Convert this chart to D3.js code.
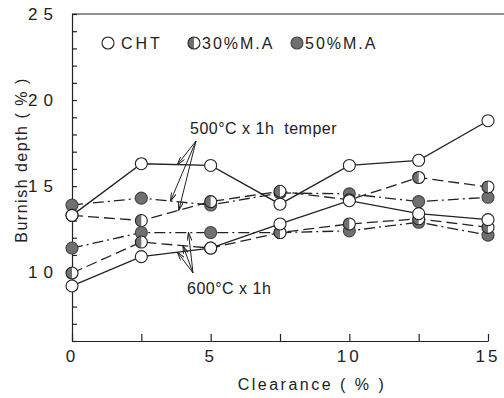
<!DOCTYPE html>
<html>
<head>
<meta charset="utf-8">
<script src="https://cdn.jsdelivr.net/npm/d3@7"></script>
<style>
  body { margin: 0; background: #fff; }
  svg { display: block; }
  text { font-family: "Liberation Sans", Arial, sans-serif; fill: #222; }
</style>
</head>
<body>
<svg id="chart"></svg>
<script>
var clearance = [0, 2.5, 5, 7.5, 10, 12.5, 15];

// 500C x 1h temper
var cht500  = [13.3, 16.3, 16.2, 13.95, 16.2, 16.5, 18.8];
var ma30500 = [13.3, 13.0, 14.1, 14.7, 14.2, 15.5, 14.95];
var ma50500 = [13.9, 14.3, 13.9, 14.6, 14.55, 14.1, 14.35];
// 600C x 1h
var cht600  = [9.2, 10.9, 11.4, 12.8, 14.15, 13.4, 13.05];
var ma30600 = [9.95, 11.75, 11.4, 12.3, 12.8, 13.1, 12.6];
var ma50600 = [11.4, 12.3, 12.3, 12.3, 12.4, 12.9, 12.15];

var xTicks = [0, 5, 10, 15];
var yTicks = [10, 15, 20, 25];

var width = 504, height = 398;
var gray = '#707070', ink = '#222';

var svg = d3.select('#chart').attr('width', width).attr('height', height);

var xScale = d3.scaleLinear().domain([0, 15]).range([72, 488]);
var yScale = d3.scaleLinear().domain([6, 25]).range([341, 14]);

// frame
svg.append('line')
    .attr('x1', 72).attr('x2', width)
    .attr('y1', yScale(25)).attr('y2', yScale(25))
    .attr('stroke', ink).attr('stroke-width', 1.2);

var xAxis = d3.axisBottom(xScale)
    .tickValues(d3.range(0, 15.01, 2.5))
    .tickSize(-7)
    .tickSizeOuter(0)
    .tickFormat('');
svg.append('g')
    .attr('transform', 'translate(0,' + yScale(6) + ')')
    .call(xAxis);

var yAxis = d3.axisLeft(yScale)
    .tickValues(d3.range(6, 25.01, 1))
    .tickSize(-5)
    .tickSizeOuter(0)
    .tickFormat('');
svg.append('g')
    .attr('transform', 'translate(' + xScale(0) + ',0)')
    .call(yAxis);

svg.selectAll('.domain, .tick line').attr('stroke', ink).attr('stroke-width', 1.2);

// tick labels
svg.selectAll('.xlab')
    .data(xTicks)
    .enter()
    .append('text')
    .attr('x', d => xScale(d))
    .attr('y', 362)
    .attr('text-anchor', 'middle')
    .attr('font-size', 17)
    .attr('letter-spacing', 3)
    .text(d => d);

svg.selectAll('.ylab')
    .data(yTicks)
    .enter()
    .append('text')
    .attr('x', 59)
    .attr('y', d => yScale(d))
    .attr('dy', '0.36em')
    .attr('text-anchor', 'end')
    .attr('font-size', 17)
    .attr('letter-spacing', 6)
    .text(d => d);

svg.append('text')
    .attr('x', 312)
    .attr('y', 390)
    .attr('text-anchor', 'middle')
    .attr('font-size', 16)
    .attr('letter-spacing', 2.5)
    .text('Clearance ( % )');

svg.append('text')
    .attr('transform', 'translate(27,160) rotate(-90)')
    .attr('text-anchor', 'middle')
    .attr('font-size', 16)
    .attr('letter-spacing', 1.5)
    .text('Burnish depth ( % )');

// series
var series = [
    {vals: cht500,  dash: null,           fill: 'open'},
    {vals: ma30500, dash: '11,5',         fill: 'half'},
    {vals: ma50500, dash: '11,4,2,4',     fill: 'full'},
    {vals: cht600,  dash: null,           fill: 'open'},
    {vals: ma30600, dash: '11,5',         fill: 'half'},
    {vals: ma50600, dash: '11,4,2,4',     fill: 'full'}
];

var line = d3.line()
    .x((d, i) => xScale(clearance[i]))
    .y(d => yScale(d));

svg.selectAll('.series')
    .data(series)
    .enter()
    .append('path')
    .attr('d', d => line(d.vals))
    .attr('fill', 'none')
    .attr('stroke', ink)
    .attr('stroke-width', 1.3)
    .attr('stroke-dasharray', d => d.dash);

var r = 6;
function drawMarker(g, cx, cy, kind) {
    if (kind === 'half') {
        g.append('circle').attr('cx', cx).attr('cy', cy).attr('r', r).attr('fill', '#fff');
        g.append('path')
            .attr('d', 'M' + cx + ',' + (cy - r) + ' A' + r + ',' + r + ' 0 0 0 ' + cx + ',' + (cy + r) + ' Z')
            .attr('fill', gray);
        g.append('circle').attr('cx', cx).attr('cy', cy).attr('r', r)
            .attr('fill', 'none').attr('stroke', ink).attr('stroke-width', 1.1);
    } else {
        g.append('circle').attr('cx', cx).attr('cy', cy).attr('r', r)
            .attr('fill', kind === 'full' ? gray : '#fff')
            .attr('stroke', kind === 'full' ? '#444' : ink)
            .attr('stroke-width', 1.1);
    }
}

var markers = svg.append('g');
[ma50500, ma30500, cht500, ma50600, ma30600, cht600].forEach(function(vals, k) {
    var kind = ['full', 'half', 'open'][k % 3];
    vals.forEach(function(v, i) {
        drawMarker(markers, xScale(clearance[i]), yScale(v), kind);
    });
});

// legend
var legend = svg.append('g');
var legItems = [
    {x: 108, kind: 'open', label: 'CHT'},
    {x: 194, kind: 'half', label: '30%M.A'},
    {x: 297, kind: 'full', label: '50%M.A'}
];
legItems.forEach(function(d) {
    drawMarker(legend, d.x, 43, d.kind);
    legend.append('text')
        .attr('x', d.x + (d.kind === 'open' ? 13 : 8))
        .attr('y', 43)
        .attr('dy', '0.36em')
        .attr('font-size', 16)
        .attr('letter-spacing', d.kind === 'open' ? 3 : 2)
        .text(d.label);
});

// annotations
svg.append('defs').append('marker')
    .attr('id', 'arr')
    .attr('viewBox', '0 0 10 6')
    .attr('refX', 10).attr('refY', 3)
    .attr('markerWidth', 9).attr('markerHeight', 5)
    .attr('orient', 'auto')
    .append('path')
    .attr('d', 'M0,0 L10,3 L0,6')
    .attr('fill', 'none')
    .attr('stroke', ink)
    .attr('stroke-width', 1.2);

function yAt(vals, x) {
    var i = Math.min(Math.floor(x / 2.5), vals.length - 2);
    var t = (x - clearance[i]) / 2.5;
    return vals[i] + (vals[i + 1] - vals[i]) * t;
}

var notes = [
    {text: '500°C x 1h  temper', tx: 190, ty: 134, ox: 196, oy: 141,
     targets: [[cht500, 3.8], [ma50500, 3.55], [ma30500, 3.85]]},
    {text: '600°C x 1h', tx: 187, ty: 294, ox: 193, oy: 273,
     targets: [[cht600, 3.8], [ma30600, 4.0], [ma50600, 4.2]]}
];
notes.forEach(function(n) {
    svg.append('text')
        .attr('x', n.tx).attr('y', n.ty)
        .attr('font-size', 16)
        .attr('letter-spacing', 0.5)
        .attr('xml:space', 'preserve')
        .style('white-space', 'pre')
        .text(n.text);
    n.targets.forEach(function(t) {
        svg.append('line')
            .attr('x1', n.ox).attr('y1', n.oy)
            .attr('x2', xScale(t[1])).attr('y2', yScale(yAt(t[0], t[1])))
            .attr('stroke', ink).attr('stroke-width', 1)
            .attr('marker-end', 'url(#arr)');
    });
});
</script>
</body>
</html>
